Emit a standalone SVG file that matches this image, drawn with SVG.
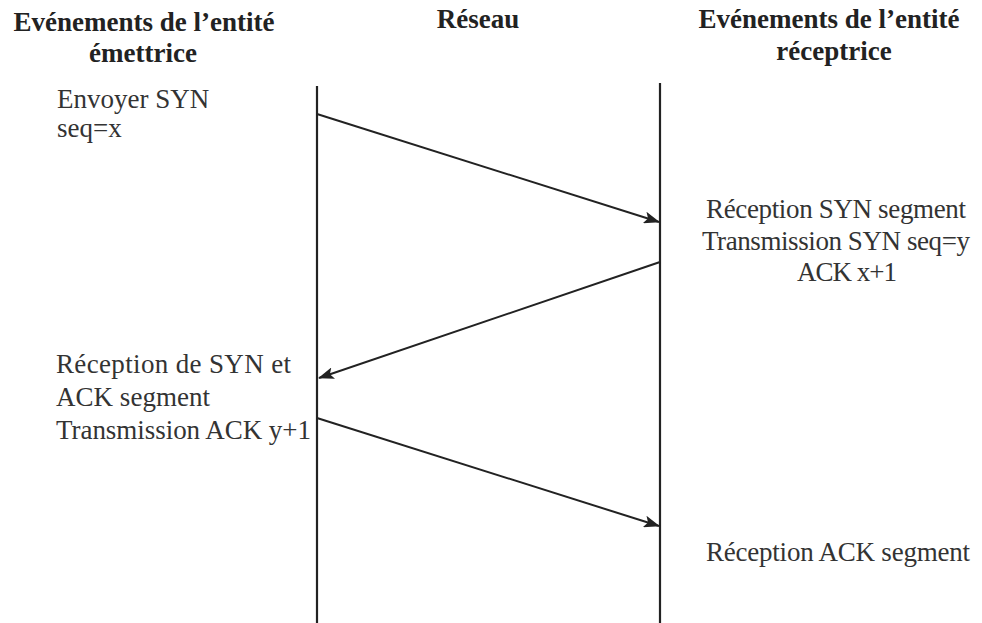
<svg xmlns="http://www.w3.org/2000/svg" width="982" height="623" viewBox="0 0 982 623">
  <style>
    .hdr { font-family: "Liberation Serif", "Times New Roman", serif; font-weight: bold; font-size: 27px; fill: #222; }
    .lbl { font-family: "Liberation Serif", "Times New Roman", serif; font-size: 27px; fill: #333; }
    .life { stroke: #222; stroke-width: 2.2; fill: none; }
    .msg { stroke: #222; stroke-width: 2; fill: none; marker-end: url(#arrow); }
  </style>
  <defs>
    <marker id="arrow" markerWidth="16" markerHeight="12" refX="15" refY="6" orient="auto" markerUnits="userSpaceOnUse">
      <path d="M0,0 L16,6 L0,12 L3.5,6 Z" fill="#222"/>
    </marker>
  </defs>
  <rect width="982" height="623" fill="#fff"/>

  <!-- column headers -->
  <g id="header-sender">
    <text class="hdr" x="144" y="31" text-anchor="middle">Evénements de l’entité</text>
    <text class="hdr" x="143" y="62" text-anchor="middle">émettrice</text>
  </g>
  <g id="header-network">
    <text class="hdr" x="478" y="28" text-anchor="middle">Réseau</text>
  </g>
  <g id="header-receiver">
    <text class="hdr" x="829" y="28" text-anchor="middle">Evénements de l’entité</text>
    <text class="hdr" x="834" y="60" text-anchor="middle">réceptrice</text>
  </g>

  <!-- lifelines -->
  <g id="lifeline-sender">
    <line class="life" x1="317" y1="86" x2="317" y2="623"/>
  </g>
  <g id="lifeline-receiver">
    <line class="life" x1="660" y1="83" x2="660" y2="623"/>
  </g>

  <!-- event labels -->
  <g id="event-send-syn">
    <text class="lbl" x="57" y="108">Envoyer SYN</text>
    <text class="lbl" x="57" y="137">seq=x</text>
  </g>
  <g id="event-recv-syn">
    <text class="lbl" x="706" y="218" textLength="260" lengthAdjust="spacing">Réception SYN segment</text>
    <text class="lbl" x="702" y="250" textLength="268" lengthAdjust="spacing">Transmission SYN seq=y</text>
    <text class="lbl" x="797" y="281" textLength="100" lengthAdjust="spacing">ACK x+1</text>
  </g>
  <g id="event-recv-synack">
    <text class="lbl" x="56" y="373" textLength="235" lengthAdjust="spacing">Réception de SYN et</text>
    <text class="lbl" x="56" y="406" textLength="154" lengthAdjust="spacing">ACK segment</text>
    <text class="lbl" x="56" y="439" textLength="255" lengthAdjust="spacing">Transmission ACK y+1</text>
  </g>
  <g id="event-recv-ack">
    <text class="lbl" x="706" y="561" textLength="264" lengthAdjust="spacing">Réception ACK segment</text>
  </g>

  <!-- messages -->
  <g id="connectors">
    <line class="msg" x1="317" y1="114" x2="659" y2="222"/>
    <line class="msg" x1="660" y1="262" x2="319" y2="378"/>
    <line class="msg" x1="317" y1="418" x2="659" y2="526"/>
  </g>
</svg>
